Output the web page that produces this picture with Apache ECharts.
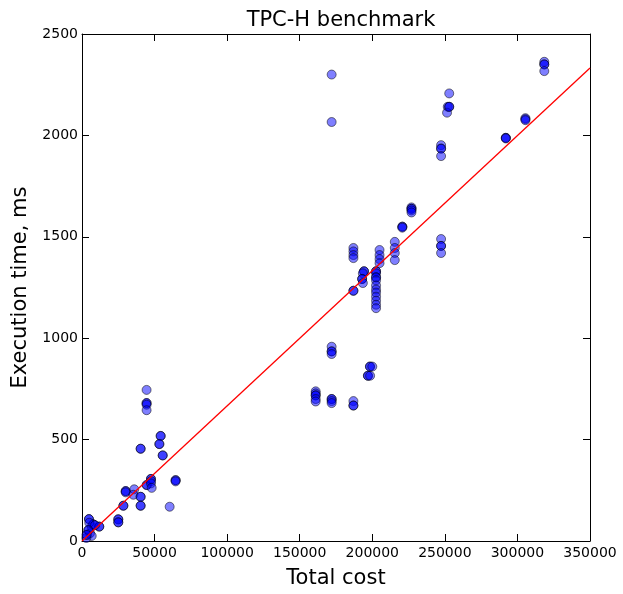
<!DOCTYPE html>
<html>
<head>
<meta charset="utf-8">
<script src="https://cdn.jsdelivr.net/npm/echarts@6/dist/echarts.min.js"></script>
<style>html,body{margin:0;padding:0;background:#fff}#c{width:623px;height:594px}</style>
</head>
<body>
<div id="c"></div>
<script>
// Measured points: total cost (x) and execution time in ms (y); repeated runs overlap
const costs = [
  3200,4400,4800,4800,5500,6700,6700,7800,7800,11900,11900,3000,5000,9000,4400,3200,
  25000,25000,25000,25000,28500,28500,30100,30100,30100,36000,35400,
  40400,40400,40400,40400,40400,40400,44500,44500,44500,44500,44500,44600,44600,
  47500,47500,47500,47500,48000,54200,54200,53300,53300,55600,55600,60400,64500,64500,64500,
  161000,161000,161000,161000,161000,161000,
  172000,172000,172000,172000,172000,172000,172000,172000,172000,172000,
  187000,187000,187000,187000,187000,187000,187000,187000,187000,
  194300,194300,193500,193000,193000,193500,
  197000,197000,198500,198400,198400,200000,
  202600,202600,202600,202600,202600,202600,202600,202600,202600,202600,202600,202600,202600,
  205000,205000,205000,205000,
  215500,215500,215500,215500,
  220700,220700,220700,
  227000,227000,227000,227000,227000,
  247400,247400,247400,247400,247400,247400,247400,247400,
  253000,252000,253000,251500,253000,
  292000,292000,292000,305500,305500,305500,
  318500,318500,318500,318500
];
const times = [
  30,54,108,108,38,25,71,82,82,71,71,15,90,78,54,30,
  107,107,92,92,174,174,246,246,240,255,228,
  455,455,218,218,174,174,745,680,680,672,645,276,276,
  306,306,295,284,262,518,518,478,478,422,422,169,300,300,294,
  738,728,718,718,700,688,
  2300,2066,958,935,935,922,700,700,690,680,
  690,668,668,1445,1428,1410,1395,1234,1234,
  1330,1330,1320,1292,1292,1272,
  815,815,815,860,860,860,
  1330,1330,1320,1300,1300,1285,1260,1240,1225,1205,1185,1165,1148,
  1435,1410,1390,1370,
  1475,1445,1420,1385,
  1550,1550,1545,
  1645,1638,1638,1630,1620,
  1952,1935,1935,1898,1489,1455,1455,1420,
  2207,2141,2141,2112,2141,
  1988,1988,1985,2085,2080,2075,
  2363,2350,2350,2317
];
// Fitted line endpoints
const fitX = [0, 350000];
const fitY = [0, 2332];
// Axis ranges
const xMax = 350000, xStep = 50000;
const yMax = 2500, yStep = 500;

const points = costs.map((c, i) => [c, times[i]]);
const fit = fitX.map((x, i) => [x, fitY[i]]);

const font = 'DejaVu Sans';
const tick = {show: true, inside: true, length: 7, lineStyle: {color: '#000', width: 1}};
const line = {show: true, onZero: false, lineStyle: {color: '#000', width: 1}};
const plain = v => String(v);

const chart = echarts.init(document.getElementById('c'));
chart.setOption({
  animation: false,
  backgroundColor: '#fff',
  title: {
    text: 'TPC-H benchmark', left: 336, top: 5, textAlign: 'center',
    textStyle: {fontFamily: font, fontSize: 21, fontWeight: 'normal', color: '#000'}
  },
  grid: {left: 82, right: 33, top: 34, bottom: 53},
  xAxis: [{
    type: 'value', min: 0, max: xMax, interval: xStep,
    axisLine: line, axisTick: tick, splitLine: {show: false},
    axisLabel: {color: '#000', fontFamily: font, fontSize: 14, margin: 5, formatter: plain},
    name: 'Total cost', nameLocation: 'middle', nameGap: 27,
    nameTextStyle: {fontFamily: font, fontSize: 21, color: '#000'}
  }, {
    type: 'value', position: 'top', min: 0, max: xMax, interval: xStep,
    axisLine: line, axisTick: tick, axisLabel: {show: false}, splitLine: {show: false}
  }],
  yAxis: [{
    type: 'value', min: 0, max: yMax, interval: yStep,
    axisLine: line, axisTick: tick, splitLine: {show: false},
    axisLabel: {color: '#000', fontFamily: font, fontSize: 14, margin: 4, formatter: plain},
    name: 'Execution time, ms', nameLocation: 'middle', nameGap: 50,
    nameTextStyle: {fontFamily: font, fontSize: 21, color: '#000'}
  }, {
    type: 'value', position: 'right', min: 0, max: yMax, interval: yStep,
    axisLine: line, axisTick: tick, axisLabel: {show: false}, splitLine: {show: false}
  }],
  series: [{
    type: 'scatter', data: points, symbolSize: 9,
    itemStyle: {color: 'rgba(0,0,255,0.5)', borderColor: 'rgba(0,0,0,0.5)', borderWidth: 1, opacity: 1},
    emphasis: {disabled: true}
  }, {
    type: 'line', data: fit, showSymbol: false, symbol: 'none',
    lineStyle: {color: '#ff0000', width: 1.3}, emphasis: {disabled: true}
  }]
});
</script>
</body>
</html>
